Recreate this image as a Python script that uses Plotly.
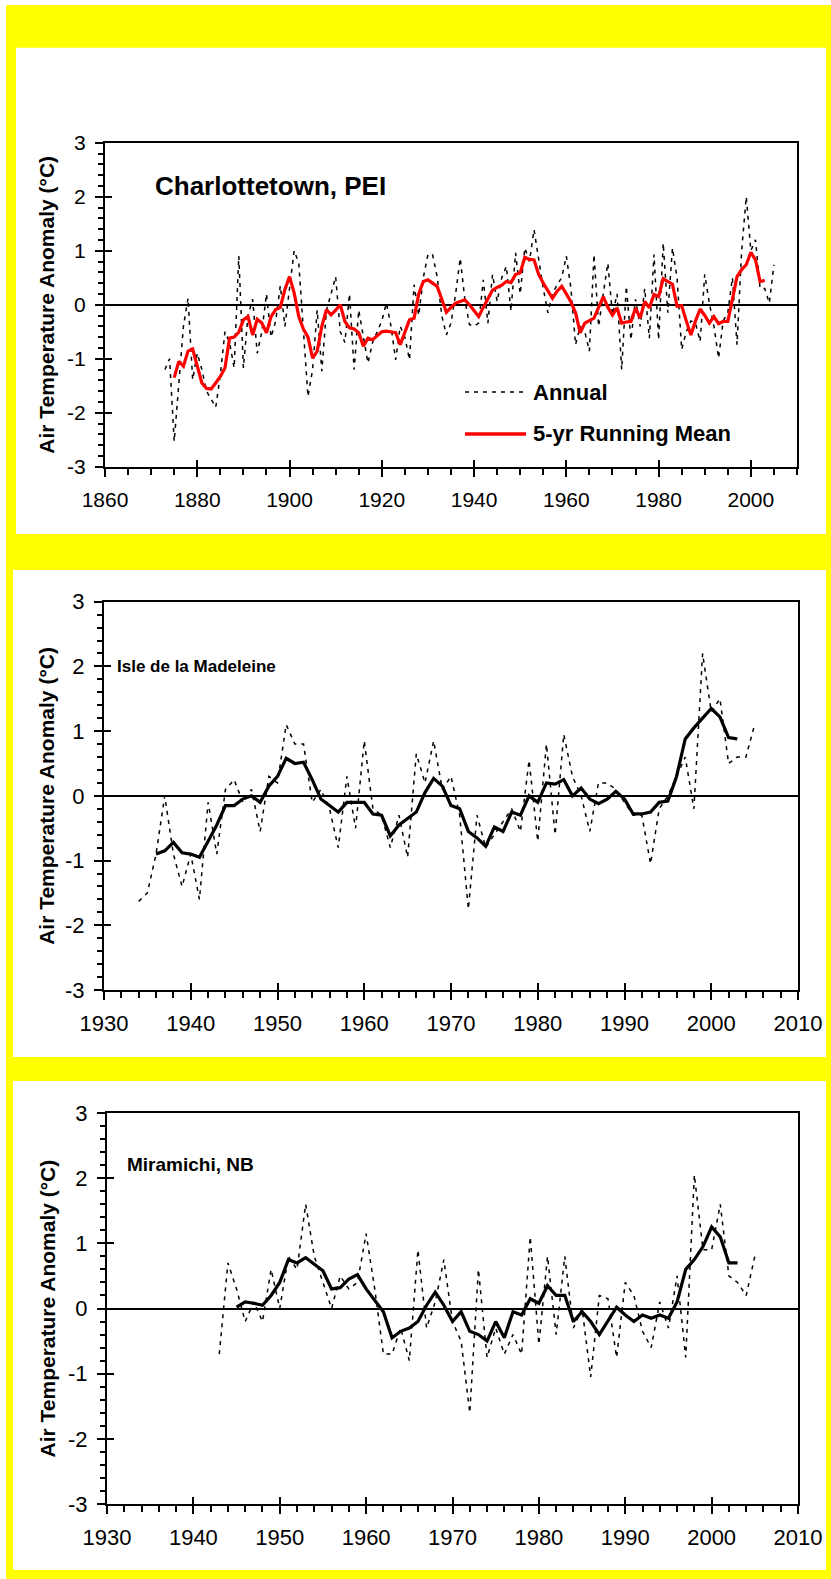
import plotly.graph_objects as go

# ---------------- data ----------------
# Charlottetown, PEI
ch_years = list(range(1873, 2006))
ch_annual = [
    -1.2, -1.0, -2.53, -1.5, -0.4, 0.12, -1.39, -0.9, -1.2, -1.6,
    -1.75, -1.9, -1.3, -0.5, -0.7, -1.17, 0.9, -1.17, -0.2, 0.1,
    -0.9, -0.5, 0.2, -0.6, -0.3, 0.35, -0.4, 0.3, 1.0, 0.77,
    -0.5, -1.7, -1.2, -0.1, -1.23, -0.1, 0.2, 0.52, -0.5, -0.7,
    0.2, -1.2, -0.1, -0.6, -1.08, -0.7, -0.5, -0.3, 0.03, -0.4,
    -1.02, -0.4, -0.6, -1.02, 0.37, -0.2, 0.5, 0.93, 0.93, 0.52,
    -0.2, -0.56, -0.34, 0.2, 0.86, 0.1, -0.37, -0.4, -0.34, 0.46,
    -0.34, 0.56, 0.06, 0.5, 0.71, -0.12, 0.96, 0.2, 1.05, 0.8,
    1.39, 0.83, 0.3, -0.15, 0.2, 0.37, 0.5, 0.9, 0.3, -0.74,
    -0.4, -0.5, -0.86, 0.93, -0.4, 0.2, 0.77, -0.19, 0.2, -1.2,
    0.34, -0.65, 0.1, -0.4, 0.3, -0.62, 0.93, -0.65, 1.14, -0.15,
    1.05, 0.5, -0.83, -0.5, -0.3, -0.34, -0.68, 0.56, 0.03, -0.4,
    -0.99, -0.3, -0.15, 0.5, -0.74, 1.0, 2.0, 1.0, 1.2, 0.3,
    0.3, 0.03, 0.74,
]
ch_mean_years = list(range(1875, 2004))
ch_mean = [
    -1.35, -1.05, -1.14, -0.86, -0.82, -1.14, -1.45, -1.55, -1.56, -1.45,
    -1.33, -1.17, -0.62, -0.6, -0.51, -0.28, -0.22, -0.56, -0.27, -0.34,
    -0.52, -0.22, -0.09, -0.05, 0.28, 0.52, 0.22, -0.22, -0.45, -0.6,
    -0.99, -0.86, -0.4, -0.09, -0.19, -0.1, 0.0, -0.31, -0.43, -0.45,
    -0.52, -0.77, -0.62, -0.65, -0.58, -0.5, -0.49, -0.5, -0.52, -0.74,
    -0.5, -0.28, -0.25, 0.2, 0.43, 0.46, 0.4, 0.34, 0.1, -0.14,
    -0.05, 0.03, 0.06, 0.09, 0.0, -0.1, -0.22, -0.05, 0.12, 0.27,
    0.32, 0.36, 0.43, 0.41, 0.56, 0.59, 0.88, 0.84, 0.83, 0.56,
    0.4, 0.25, 0.12, 0.25, 0.34, 0.2, 0.05, -0.15, -0.52, -0.34,
    -0.3, -0.25, -0.05, 0.15, -0.05, -0.19, -0.06, -0.34, -0.32, -0.31,
    -0.06, -0.25, 0.06, -0.06, 0.19, 0.15, 0.48, 0.43, 0.38, -0.03,
    -0.02, -0.3, -0.56, -0.3, -0.08, -0.2, -0.34, -0.22, -0.35, -0.31,
    -0.31, 0.1, 0.52, 0.65, 0.74, 0.97, 0.83, 0.43, 0.45,
]

# Isle de la Madeleine
im_years = list(range(1934, 2006))
im_annual = [
    -1.63, -1.5, -0.9, 0.0, -0.9, -1.4, -0.9, -1.6, -0.1, -0.9,
    0.1, 0.25, -0.1, 0.1, -0.55, 0.3, 0.2, 1.1, 0.8, 0.8,
    -0.1, 0.1, -0.2, -0.8, 0.3, -0.5, 0.85, -0.2, -0.3, -0.8,
    -0.3, -0.95, 0.65, 0.2, 0.85, 0.1, 0.3, -0.3, -1.75, -0.3,
    -0.8, -0.6, -0.4, -0.2, -0.55, 0.55, -0.7, 0.8, -0.6, 0.95,
    0.3, 0.0, -0.55, 0.2, 0.2, 0.1, -0.1, -0.3, -0.3, -1.05,
    -0.2, 0.0, 0.3, 0.6, -0.2, 2.2, 1.3, 1.5, 0.5, 0.6,
    0.6, 1.1,
]
im_mean_years = list(range(1936, 2004))
im_mean = [
    -0.9, -0.85, -0.72, -0.88, -0.9, -0.95, -0.7, -0.45, -0.15, -0.15,
    -0.05, 0.0, -0.1, 0.15, 0.3, 0.58, 0.5, 0.52, 0.25, -0.05,
    -0.15, -0.25, -0.1, -0.1, -0.1, -0.28, -0.3, -0.62, -0.45, -0.35,
    -0.25, 0.05, 0.27, 0.15, -0.15, -0.2, -0.55, -0.65, -0.78, -0.48,
    -0.55, -0.25, -0.3, 0.0, -0.1, 0.2, 0.18, 0.25, 0.0, 0.12,
    -0.05, -0.12, -0.05, 0.07, -0.05, -0.28, -0.28, -0.25, -0.1, -0.08,
    0.3, 0.88, 1.05, 1.2, 1.35, 1.22, 0.9, 0.88,
]

# Miramichi, NB
mi_years = list(range(1943, 2006))
mi_annual = [
    -0.7, 0.7, 0.3, -0.2, 0.1, -0.2, 0.6, 0.0, 0.8, 0.6,
    1.6, 0.8, 0.4, 0.0, 0.5, 0.3, 0.4, 1.15, 0.3, -0.7,
    -0.7, -0.3, -0.8, 0.9, -0.3, 0.1, 0.75, -0.2, -0.5, -1.6,
    0.6, -0.75, -0.3, -0.7, -0.4, -0.7, 1.1, -0.55, 0.8, -0.4,
    0.8, -0.3, 0.0, -1.05, 0.2, 0.15, -0.75, 0.4, 0.2, -0.35,
    -0.6, 0.1, -0.3, 0.5, -0.75, 2.05, 0.9, 0.9, 1.6, 0.5,
    0.4, 0.2, 0.8,
]
mi_mean_years = list(range(1945, 2004))
mi_mean = [
    0.02, 0.1, 0.08, 0.05, 0.2, 0.4, 0.75, 0.7, 0.78, 0.68,
    0.58, 0.3, 0.32, 0.45, 0.52, 0.3, 0.12, -0.05, -0.45, -0.35,
    -0.3, -0.2, 0.05, 0.25, 0.05, -0.2, -0.05, -0.35, -0.4, -0.5,
    -0.2, -0.45, -0.05, -0.1, 0.15, 0.08, 0.35, 0.2, 0.2, -0.2,
    -0.05, -0.2, -0.4, -0.2, 0.02, -0.1, -0.2, -0.1, -0.15, -0.1,
    -0.15, 0.1, 0.6, 0.75, 0.95, 1.25, 1.1, 0.7, 0.7,
]

y_tickvals = [-3, -2, -1, 0, 1, 2, 3]
y_ticktext = ["-3", "-2", "-1", "0", "1", "2", "3"]
station_names = ["Charlottetown, PEI", "Isle de la Madeleine", "Miramichi, NB"]
y_title = "Air Temperature Anomaly (\u00b0C)"
legend_names = ["Annual", "5-yr Running Mean"]

# ---------------- page geometry (pixels) ----------------
W, H = 831, 1579
FONT = "Liberation Sans, Arial, sans-serif"
ANNUAL_DASH = "4px,5px"


def px(x):
    return x / W


def py(y):
    return 1 - y / H


# plot areas: (left, right, top, bottom)
areas = [(105, 797, 142.7, 466.7), (104, 798, 601.7, 990), (107, 798, 1113, 1504)]
# white panel cards: (left, right, top, bottom)
cards = [(16, 826, 47.7, 534), (13, 826, 570, 1057), (13, 826, 1081, 1570)]
x_ranges = [(1860, 2010), (1930, 2010), (1930, 2010)]
x_major = [20, 10, 10]
x_minor = [5, 2, 2]

fig = go.Figure()

# ---------------- traces ----------------
series = [
    (ch_years, ch_annual, ch_mean_years, ch_mean, "#ff0000"),
    (im_years, im_annual, im_mean_years, im_mean, "#000000"),
    (mi_years, mi_annual, mi_mean_years, mi_mean, "#000000"),
]
for i, (yrs, ann, myrs, mean, col) in enumerate(series):
    xa = "x" if i == 0 else f"x{i + 1}"
    ya = "y" if i == 0 else f"y{i + 1}"
    fig.add_trace(go.Scatter(
        x=yrs, y=ann, mode="lines", name=legend_names[0],
        line=dict(color="black", width=1.5, dash=ANNUAL_DASH),
        xaxis=xa, yaxis=ya, showlegend=False, hoverinfo="skip",
    ))
    fig.add_trace(go.Scatter(
        x=myrs, y=mean, mode="lines", name=legend_names[1],
        line=dict(color=col, width=3.2),
        xaxis=xa, yaxis=ya, showlegend=False, hoverinfo="skip",
    ))
    # empty trace that carries the inner tick-mark axes
    fig.add_trace(go.Scatter(
        x=[None], y=[None], xaxis=f"x{i + 4}", yaxis=f"y{i + 4}",
        showlegend=False, hoverinfo="skip",
    ))

# ---------------- axes ----------------
layout_axes = {}
for i in range(3):
    l, r, t, b = areas[i]
    xdom = [px(l), px(r)]
    ydom = [py(b), py(t)]
    sx = "" if i == 0 else str(i + 1)
    xr = x_ranges[i]
    tick_font = dict(family=FONT, size=21 if i == 0 else 22, color="black")
    layout_axes[f"xaxis{sx}"] = dict(
        domain=xdom, range=list(xr), anchor=f"y{sx}", automargin=False,
        tickmode="linear", tick0=xr[0], dtick=x_major[i],
        ticks="outside", ticklen=8, tickwidth=2, tickcolor="black",
        minor=dict(ticks="outside", ticklen=6, tickwidth=1.5, tickcolor="black",
                   tick0=xr[0], dtick=x_minor[i]),
        showline=True, linewidth=2, linecolor="black", mirror=True,
        showgrid=False, zeroline=False, tickfont=tick_font,
        ticklabelstandoff=5, fixedrange=True,
    )
    layout_axes[f"yaxis{sx}"] = dict(
        domain=ydom, range=[-3, 3], anchor=f"x{sx}", automargin=False,
        tickmode="array", tickvals=y_tickvals, ticktext=y_ticktext,
        ticks="outside", ticklen=8, tickwidth=2, tickcolor="black",
        minor=dict(ticks="outside", ticklen=5, tickwidth=1.5, tickcolor="black",
                   tickmode="linear", tick0=-3, dtick=0.2),
        showline=True, linewidth=2, linecolor="black", mirror=True,
        showgrid=False, zeroline=True, zerolinecolor="black", zerolinewidth=1.8,
        tickfont=tick_font, ticklabelstandoff=5, fixedrange=True,
    )
    # companion axes drawing the inner half of the major ticks
    k = i + 4
    layout_axes[f"xaxis{k}"] = dict(
        domain=xdom, range=list(xr), anchor=f"y{k}", overlaying=f"x{sx}",
        side="bottom", automargin=False,
        tickmode="linear", tick0=xr[0], dtick=x_major[i],
        ticks="inside", ticklen=7, tickwidth=2, tickcolor="black",
        showticklabels=False, showline=False, showgrid=False, zeroline=False,
        fixedrange=True,
    )
    layout_axes[f"yaxis{k}"] = dict(
        domain=ydom, range=[-3, 3], anchor=f"x{k}", overlaying=f"y{sx}",
        side="left", automargin=False, tickmode="array", tickvals=y_tickvals,
        ticks="inside", ticklen=7, tickwidth=2, tickcolor="black",
        showticklabels=False, showline=False, showgrid=False, zeroline=False,
        fixedrange=True,
    )

# ---------------- background cards ----------------
shapes = [dict(type="rect", xref="paper", yref="paper", x0=px(6), x1=1,
               y0=0, y1=py(5), fillcolor="#ffff00", line=dict(width=0),
               layer="below")]
for (l, r, t, b) in cards:
    shapes.append(dict(type="rect", xref="paper", yref="paper",
                       x0=px(l), x1=px(r), y0=py(b), y1=py(t),
                       fillcolor="white", line=dict(width=0), layer="below"))

# ---------------- key for the top panel ----------------
key_rows = [(392, dict(color="black", width=1.5, dash=ANNUAL_DASH)),
            (434, dict(color="#ff0000", width=3.5))]
for (ky, kline) in key_rows:
    shapes.append(dict(type="line", xref="paper", yref="paper",
                       x0=px(465), x1=px(526), y0=py(ky), y1=py(ky),
                       line=kline, layer="above"))

# ---------------- text ----------------
annotations = []
for name, (ky, _) in zip(legend_names, key_rows):
    annotations.append(dict(
        text=f"<b>{name}</b>", x=px(531), y=py(ky), xref="paper", yref="paper",
        xanchor="left", yanchor="middle", showarrow=False,
        font=dict(family=FONT, size=22, color="black"),
    ))
title_pos = [(270, 186, 26), (196, 666, 17), (190, 1164, 19)]
for name, (cx, cy, fs) in zip(station_names, title_pos):
    annotations.append(dict(
        text=f"<b>{name}</b>", x=px(cx), y=py(cy), xref="paper", yref="paper",
        xanchor="center", yanchor="middle", showarrow=False,
        font=dict(family=FONT, size=fs, color="black"),
    ))
for (l, r, t, b) in areas:
    annotations.append(dict(
        text=f"<b>{y_title}</b>", x=px(47), y=py((t + b) / 2),
        xref="paper", yref="paper", xanchor="center", yanchor="middle",
        textangle=-90, showarrow=False,
        font=dict(family=FONT, size=21, color="black"),
    ))

fig.update_layout(
    width=W, height=H, margin=dict(l=0, r=0, t=0, b=0, autoexpand=False),
    paper_bgcolor="white", plot_bgcolor="rgba(0,0,0,0)",
    shapes=shapes, annotations=annotations, showlegend=False,
    **layout_axes,
)

fig.write_html("out.html")
